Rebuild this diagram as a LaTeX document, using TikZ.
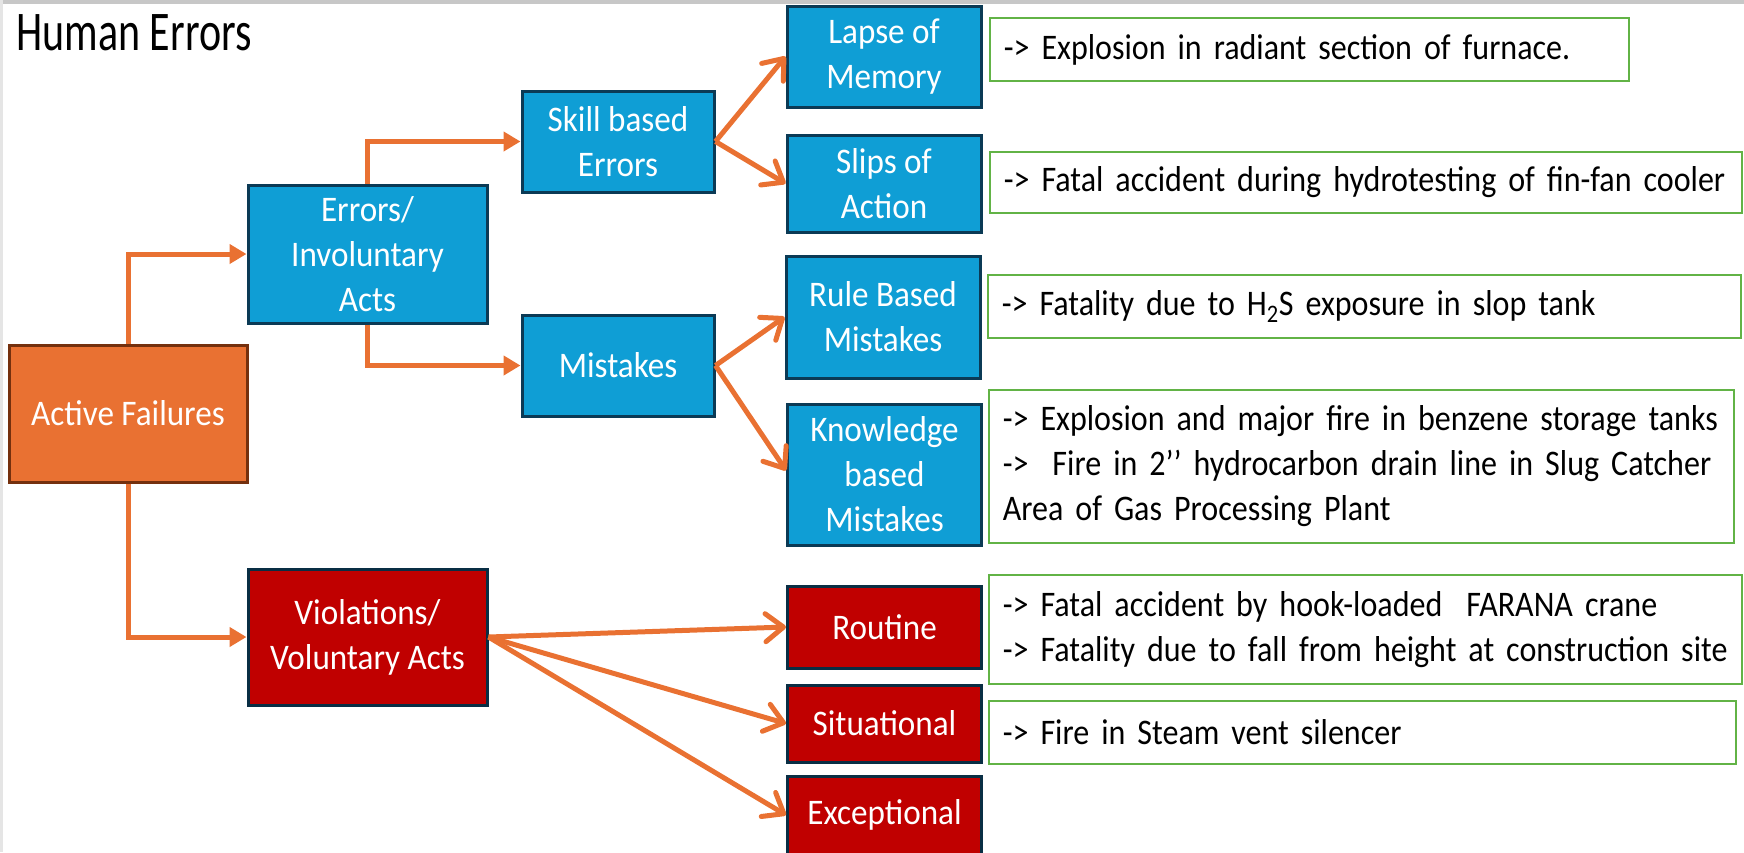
\documentclass[tikz,border=0pt]{standalone}
\usepackage{fontspec}
\setmainfont{Carlito}[FakeStretch=0.92]
\newfontfamily\headfont{Carlito}[FakeStretch=0.75]
\newfontfamily\notefont{Carlito}[FakeStretch=0.89]
\usetikzlibrary{arrows.meta}

\definecolor{accblue}{HTML}{0F9ED5}
\definecolor{accorange}{HTML}{E97132}
\definecolor{accred}{HTML}{C00000}
\definecolor{darkedge}{HTML}{0B3A55}
\definecolor{brownedge}{HTML}{74300E}
\definecolor{notegreen}{HTML}{62B346}

\begin{document}
\begin{tikzpicture}[x=1pt, y=-1pt]
\tikzset{
>={Triangle[length=17pt,width=19pt]},
  failbox/.style={
    rectangle,
    draw=darkedge, line width=3pt,
    fill=accblue,
    text=white,
    font=\fontsize{36}{45}\selectfont,
    align=center,
    inner sep=0pt},
  volbox/.style={failbox, fill=accred, draw=darkedge!80!black},
  note/.style={
    rectangle,
    draw=notegreen, line width=1.5pt,
    fill=white,
    font=\notefont\fontsize{36}{45}\selectfont,
    align=left,
    inner xsep=14pt, inner ysep=0pt,
    anchor=west},
  elbow/.style={draw=accorange, line width=5pt, ->},
  fan/.style={draw=accorange, line width=5pt, -{Straight Barb[length=18pt,width=28pt,round]}},
}
\useasboundingbox (0,0) rectangle (1744,852);
\fill[black!22] (0,0) rectangle (1744,4);
\draw[black!10, line width=3pt] (1.5,0) -- (1.5,852);

\node[anchor=base west, font=\headfont\fontsize{56}{64}\selectfont] (title) at (13,50) {Human Errors};

\node[failbox, fill=accorange, draw=brownedge, minimum width=238pt, minimum height=137pt] (active) at (128,413.5) {Active Failures};
\node[failbox, minimum width=239pt, minimum height=138pt] (errors) at (367.5,254) {Errors/\\Involuntary\\Acts};
\node[volbox, minimum width=239pt, minimum height=136pt] (violations) at (367.5,637) {Violations/\\Voluntary Acts};
\node[failbox, minimum width=192pt, minimum height=101pt] (skill) at (618,141.5) {Skill based\\Errors};
\node[failbox, minimum width=192pt, minimum height=101pt] (mistakes) at (618,365.5) {Mistakes};

\node[failbox, minimum width=194pt, minimum height=101pt] (lapse) at (884,56.5) {Lapse of\\Memory};
\node[failbox, minimum width=194pt, minimum height=97pt] (slips) at (884,183.5) {Slips of\\Action};
\node[failbox, minimum width=194pt, minimum height=122pt] (rule) at (883,317) {Rule Based\\Mistakes};
\node[failbox, minimum width=194pt, minimum height=141pt] (knowledge) at (884.5,474.5) {Knowledge\\based\\Mistakes};
\node[volbox, minimum width=194pt, minimum height=82pt] (routine) at (884.5,627) {Routine};
\node[volbox, minimum width=194pt, minimum height=77pt] (situational) at (884.5,723.5) {Situational};
\node[volbox, minimum width=194pt, minimum height=78pt] (exceptional) at (884.5,815) {Exceptional};

\node[note, text width=611pt, minimum height=63pt] (furnace) at (989,49.5) {-> Explosion in radiant section of furnace.};
\node[note, text width=724pt, minimum height=61pt] (cooler) at (989,182.5) {-> Fatal accident during hydrotesting of fin-fan cooler};
\node[note, text width=725pt, minimum height=63pt] (sloptank) at (987,306.5) {-> Fatality due to H\textsubscript{2}S exposure in slop tank};
\node[note, text width=717pt, minimum height=153pt] (benzene) at (988,466.5) {-> Explosion and major fire in benzene storage tanks\\->\ \ Fire in 2’’ hydrocarbon drain line in Slug Catcher\\Area of Gas Processing Plant};
\node[note, text width=725pt, minimum height=109pt] (crane) at (988,629.5) {-> Fatal accident by hook-loaded\ \ FARANA crane\\-> Fatality due to fall from height at construction site};
\node[note, text width=719pt, minimum height=63pt] (silencer) at (988,732.5) {-> Fire in Steam vent silencer};

\draw[elbow] (active.north) |- (errors.west);
\draw[elbow] (active.south) |- (violations.west);
\draw[elbow] (errors.north) |- (skill.west);
\draw[elbow] (errors.south) |- (mistakes.west);

\draw[fan] (skill.east) -- (lapse.west);
\draw[fan] (skill.east) -- (slips.west);
\draw[fan] (mistakes.east) -- (rule.west);
\draw[fan] (mistakes.east) -- ([yshift=4pt]knowledge.west);
\draw[fan] (violations.east) -- (routine.west);
\draw[fan] (violations.east) -- (situational.west);
\draw[fan] (violations.east) -- (exceptional.west);

\end{tikzpicture}
\end{document}
